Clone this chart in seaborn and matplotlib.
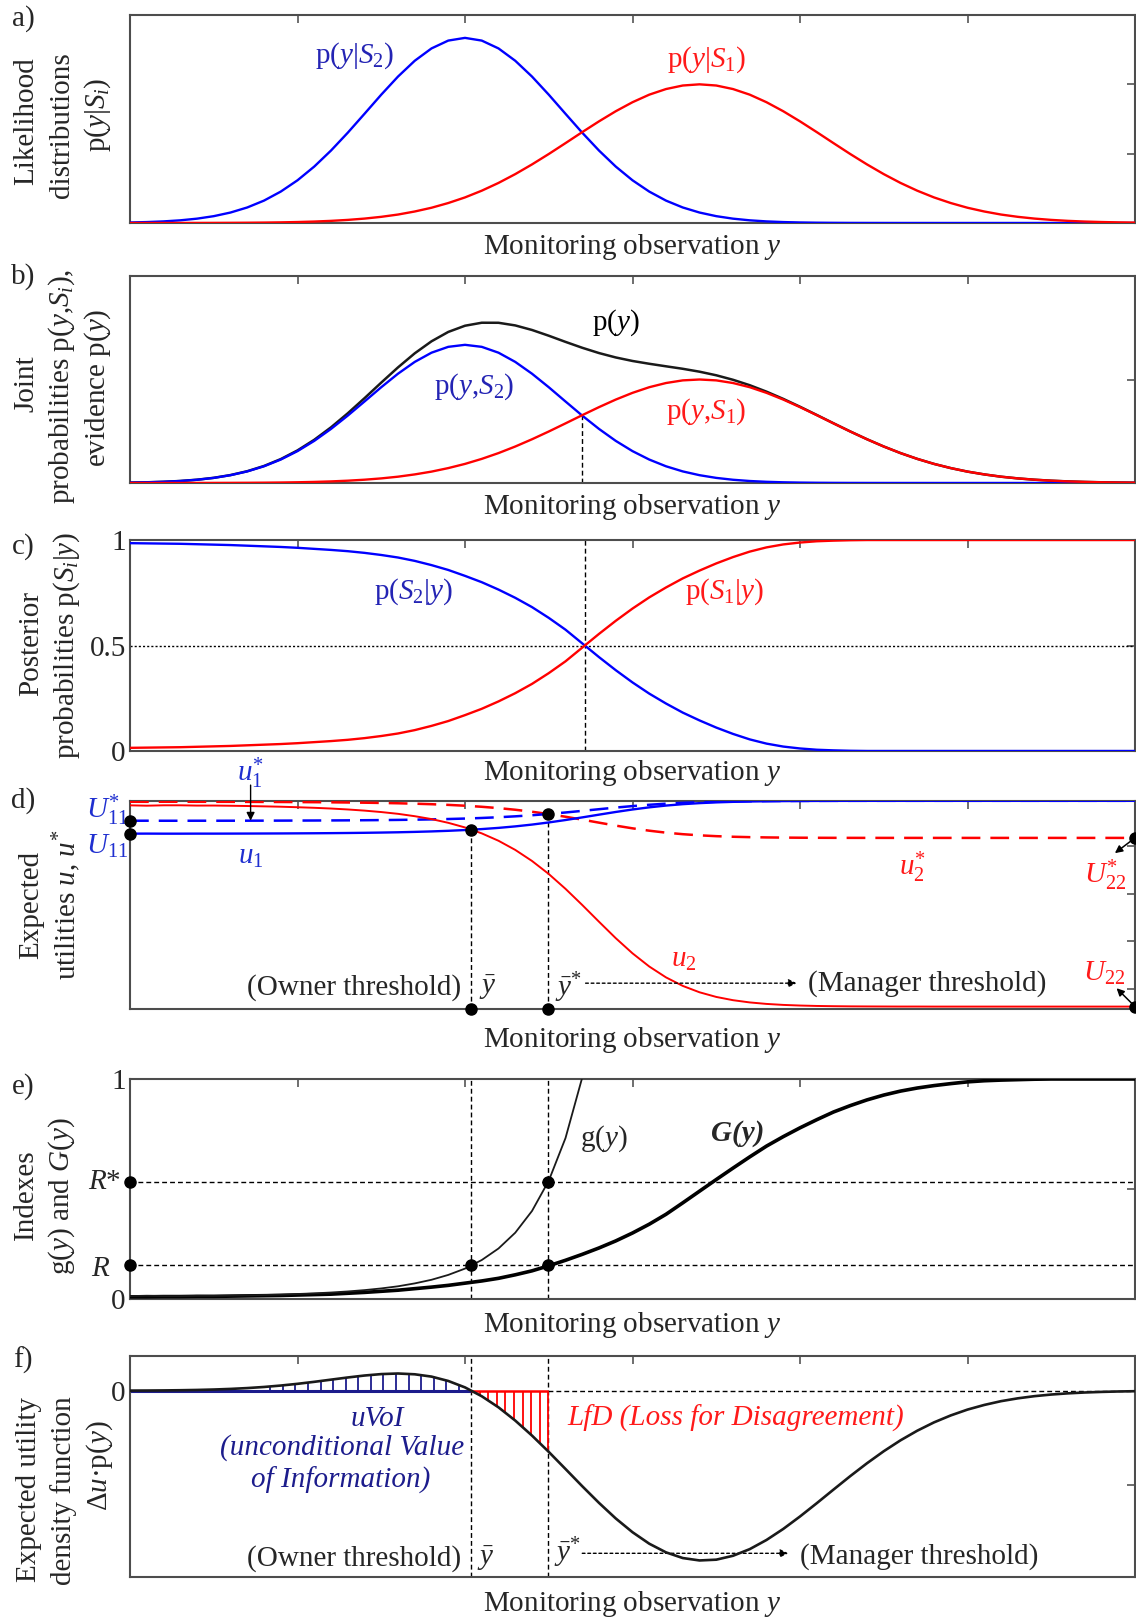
import numpy as np
import pandas as pd
import matplotlib
matplotlib.use("Agg")
import matplotlib.pyplot as plt
import seaborn as sns

# ---------------- data ----------------
y_obs = np.round(np.linspace(0.0, 6.0, 61), 1)   # monitoring observation grid

# likelihood p(y|S1) (red) and p(y|S2) (blue), panel a
lik_S1 = [0.0001, 0.0002, 0.0003, 0.0005, 0.0009, 0.0014, 0.0023, 0.0037, 0.0059, 0.0091,
          0.0140, 0.0209, 0.0308, 0.0447, 0.0636, 0.0890, 0.122, 0.166, 0.220, 0.288,
          0.369, 0.466, 0.578, 0.705, 0.845, 0.995, 1.152, 1.311, 1.466, 1.612,
          1.742, 1.851, 1.932, 1.983, 2.000, 1.983, 1.932, 1.851, 1.742, 1.612,
          1.466, 1.311, 1.152, 0.995, 0.845, 0.705, 0.578, 0.466, 0.369, 0.288,
          0.220, 0.166, 0.122, 0.0890, 0.0636, 0.0447, 0.0308, 0.0209, 0.0140, 0.0091,
          0.0059]
lik_S2 = [0.0076, 0.0134, 0.0231, 0.0386, 0.0626, 0.0986, 0.151, 0.224, 0.323, 0.453,
          0.616, 0.814, 1.045, 1.302, 1.575, 1.851, 2.112, 2.340, 2.518, 2.631,
          2.670, 2.631, 2.518, 2.340, 2.112, 1.851, 1.575, 1.302, 1.045, 0.814,
          0.616, 0.453, 0.323, 0.224, 0.151, 0.0986, 0.0626, 0.0386, 0.0231, 0.0134,
          0.0076, 0.0041, 0.0022, 0.0011, 0.0006, 0.0003, 0.0001, 0.0001, 0.0, 0.0,
          0.0, 0.0, 0.0, 0.0, 0.0, 0.0, 0.0, 0.0, 0.0, 0.0,
          0.0]
prior_S1 = 0.5
prior_S2 = 0.5

# posterior p(S1|y) as drawn in panel c
post_S1_c = [0.015, 0.016, 0.017, 0.018, 0.020, 0.022, 0.024, 0.027, 0.030, 0.033,
             0.037, 0.042, 0.047, 0.053, 0.061, 0.071, 0.083, 0.099, 0.119, 0.142,
             0.170, 0.200, 0.235, 0.274, 0.318, 0.369, 0.425, 0.490, 0.555, 0.617,
             0.675, 0.728, 0.775, 0.818, 0.855, 0.889, 0.919, 0.945, 0.965, 0.979,
             0.988, 0.994, 0.997, 0.999, 1.000, 1.000, 1.000, 1.000, 1.000, 1.000,
             1.000, 1.000, 1.000, 1.000, 1.000, 1.000, 1.000, 1.000, 1.000, 1.000,
             1.000]

# expected utilities: value when S2 is certain (left) and when S1 is certain (right)
u1_ends = [3.25, 3.95]     # U11 -> top
u1s_ends = [3.525, 3.95]   # U*11 -> top
u2_ends = [3.91, -0.376]   # -> U22
u2s_ends = [3.94, 3.17]    # -> U*22

# index G(y), panel e
G_vals = [0.010, 0.010, 0.011, 0.011, 0.012, 0.012, 0.013, 0.014, 0.015, 0.016,
          0.018, 0.020, 0.022, 0.026, 0.030, 0.035, 0.040, 0.047, 0.054, 0.062,
          0.072, 0.082, 0.094, 0.110, 0.128, 0.151, 0.176, 0.203, 0.232, 0.264,
          0.300, 0.340, 0.385, 0.437, 0.490, 0.543, 0.595, 0.646, 0.695, 0.738,
          0.778, 0.815, 0.850, 0.879, 0.905, 0.927, 0.945, 0.959, 0.970, 0.979,
          0.987, 0.992, 0.995, 0.997, 0.999, 1.000, 1.000, 1.000, 1.000, 1.000,
          1.000]

x_ticks = [1, 2, 3, 4, 5]

# ---------------- derived quantities ----------------
lik1 = np.array(lik_S1)
lik2 = np.array(lik_S2)
joint1 = prior_S1 * lik1
joint2 = prior_S2 * lik2
evidence = joint1 + joint2
post1 = joint1 / evidence
u1 = u1_ends[0] + (u1_ends[1] - u1_ends[0]) * post1
u1s = u1s_ends[0] + (u1s_ends[1] - u1s_ends[0]) * post1
u2 = u2_ends[0] + (u2_ends[1] - u2_ends[0]) * post1
u2s = u2s_ends[0] + (u2s_ends[1] - u2s_ends[0]) * post1
du_p = (u2 - u1) * evidence
pc1 = np.array(post_S1_c)
pc2 = 1.0 - pc1


def crossing(x, a, b):
    d = np.asarray(a) - np.asarray(b)
    i = np.where(np.sign(d[:-1]) != np.sign(d[1:]))[0][0]
    return x[i] - d[i] * (x[i + 1] - x[i]) / (d[i + 1] - d[i])


y_eq = crossing(y_obs, joint1, joint2)
y_eq_c = crossing(y_obs, pc1, pc2)
ybar = crossing(y_obs, u1, u2)
ybar_s = crossing(y_obs, u1s, u2s)
k_end = np.where(joint1 > 1.15 * joint2)[0][0]
g_x = y_obs[:k_end + 1]
g_vals = joint1[:k_end + 1] / joint2[:k_end + 1]
R = np.interp(ybar, g_x, g_vals)
R_s = np.interp(ybar_s, g_x, g_vals)

# ---------------- styling ----------------
sns.set_theme(style="white")
plt.rcParams["font.family"] = ["Liberation Serif", "DejaVu Serif"]
plt.rcParams["mathtext.fontset"] = "custom"
plt.rcParams["mathtext.rm"] = "Liberation Serif"
plt.rcParams["mathtext.it"] = "Liberation Serif:italic"
plt.rcParams["mathtext.bf"] = "Liberation Serif:bold"
plt.rcParams["mathtext.fallback"] = "stix"

FS = 21
BLUE = "#0000ff"
RED = "#ff0000"
TBLUE = "#2424b4"
TBLUE_D = "#1f2fd0"
NAVY = "#1c1c8c"
TRED = "#ff1a1a"

W, H = 1136, 1618
fig = plt.figure(figsize=(W / 100, H / 100), dpi=100)
AX_L, AX_R = 130, 1135
px = {"a": (15, 223), "b": (276, 483), "c": (540, 751),
      "d": (800.7, 1009.3), "e": (1079, 1299), "f": (1356, 1577)}
xlab_c = {"a": 246.5, "b": 506.5, "c": 773.5, "d": 1040, "e": 1325.5, "f": 1604}
plab_y = {"a": 19, "b": 277, "c": 547, "d": 801, "e": 1087, "f": 1360}

# y-axis titles: one entry per text line -> (text, x centre px, y centre px)
ytitles = {
    "a": [("Likelihood", 26, 121), ("distributions", 62, 125), (r"p($y$|$S_i$)", 98, 115)],
    "b": [("Joint", 26, 384), (r"probabilities p($y$,$S_i$),", 62, 386),
          (r"evidence p($y$)", 98, 388)],
    "c": [("Posterior", 31, 644), (r"probabilities p($S_i$|$y$)", 67, 645)],
    "d": [("Expected", 31, 905), (r"utilities $u$, $u^{*}$", 67, 905)],
    "e": [("Indexes", 26, 1195), (r"g($y$) and $G$($y$)", 62, 1196)],
    "f": [("Expected utility", 29, 1489), ("density function", 64, 1491),
          (r"$\Delta u$·p($y$)", 100, 1466)],
}

axes = {}
for k, (t, b) in px.items():
    ax = fig.add_axes([AX_L / W, 1 - b / H, (AX_R - AX_L) / W, (b - t) / H])
    axes[k] = ax
    ax.set_facecolor("white")
    ax.set_xlim(0, 6)
    ax.set_xticks(x_ticks)
    ax.set_xticklabels([])
    ax.tick_params(direction="in", length=6, width=1.2, top=True, right=True,
                   color="#555555", labelsize=FS, pad=3)
    for s in ax.spines.values():
        s.set_color("#4d4d4d")
        s.set_linewidth(1.5)
    ax.set_xlabel(r"Monitoring observation $y$", fontsize=FS, va="center")
    ax.xaxis.set_label_coords(0.5, (b - xlab_c[k]) / (b - t))
    fig.text(23 / W, 1 - plab_y[k] / H, k + ")", fontsize=FS, ha="center", va="center")
    for txt, xc, yc in ytitles[k]:
        fig.text(xc / W, 1 - yc / H, txt, fontsize=FS, rotation=90, rotation_mode="anchor",
                 ha="center", va="center")


def line(ax, x, y, color, lw=1.7, ls="-", z=3):
    sns.lineplot(x=x, y=y, ax=ax, color=color, linewidth=lw, linestyle=ls,
                 estimator=None, sort=False, legend=False, zorder=z)


DOT = dict(marker="o", color="black", ms=8, linestyle="none", clip_on=False, zorder=10)
DASH = (0, (3.5, 2.2))
DOTL = (0, (1.5, 1.5))
LDASH = (0, (7.5, 4))

# ---------------- a) likelihoods ----------------
ax = axes["a"]
line(ax, y_obs, lik2, BLUE)
line(ax, y_obs, lik1, RED)
ax.set_ylim(0, 3)
ax.set_yticks([1, 2]); ax.set_yticklabels([])
ax.text(1.343, 2.42, r"p($y$|$S_2$)", color=TBLUE, fontsize=FS, ha="center", va="center")
ax.text(3.442, 2.35, r"p($y$|$S_1$)", color=TRED, fontsize=FS, ha="center", va="center")

# ---------------- b) joint & evidence ----------------
ax = axes["b"]
line(ax, y_obs, evidence, "#1a1a1a", lw=1.8)
line(ax, y_obs, joint2, BLUE)
line(ax, y_obs, joint1, RED)
ax.set_ylim(0, 2)
ax.set_yticks([1]); ax.set_yticklabels([])
ax.vlines(y_eq, 0, np.interp(y_eq, y_obs, joint1), color="black", lw=1.0, linestyle=DASH)
ax.text(2.90, 1.546, r"p($y$)", color="black", fontsize=FS, ha="center", va="center")
ax.text(2.057, 0.93, r"p($y$,$S_2$)", color=TBLUE, fontsize=FS, ha="center", va="center")
ax.text(3.442, 0.689, r"p($y$,$S_1$)", color=TRED, fontsize=FS, ha="center", va="center")

# ---------------- c) posteriors ----------------
ax = axes["c"]
line(ax, y_obs, pc2, BLUE)
line(ax, y_obs, pc1, RED)
ax.set_ylim(0, 1)
ax.set_yticks([0, 0.5, 1]); ax.set_yticklabels(["0", "0.5", "1"])
ax.axhline(0.5, color="black", lw=1.0, linestyle=DOTL, zorder=1)
ax.axvline(y_eq_c, color="black", lw=1.0, linestyle=DASH, zorder=1)
ax.text(1.69, 0.755, r"p($S_2$|$y$)", color=TBLUE, fontsize=FS, ha="center", va="center")
ax.text(3.55, 0.755, r"p($S_1$|$y$)", color=TRED, fontsize=FS, ha="center", va="center")

# ---------------- d) expected utilities ----------------
ax = axes["d"]
ax.set_ylim(-0.433, 3.952)
ax.set_yticks([0, 1, 2, 3]); ax.set_yticklabels([])
line(ax, y_obs, u2s, RED, lw=1.8, ls=LDASH)
line(ax, y_obs, u1s, BLUE, lw=1.8, ls=LDASH)
line(ax, y_obs, u1, BLUE, lw=1.7)
line(ax, y_obs, u2, RED, lw=1.4)
yb_u = np.interp(ybar, y_obs, u1)
ys_u = np.interp(ybar_s, y_obs, u1s)
bot = -0.433
ax.vlines([ybar, ybar_s], bot, [yb_u, ys_u], color="black", lw=1.0, linestyle=DASH)
ax.plot([ybar, ybar_s, ybar, ybar_s], [yb_u, ys_u, bot, bot], **DOT)
ax.plot([0, 0, 6, 6], [u1[0], u1s[0], u2s[-1], u2[-1]], **DOT)
ax.text(-0.137, 3.756, r"$U_{11}^{*}$", color=TBLUE_D, fontsize=FS, ha="center", va="center")
ax.text(-0.137, 2.985, r"$U_{11}$", color=TBLUE_D, fontsize=FS, ha="center", va="center")
ax.text(0.72, 2.775, r"$u_1$", color=TBLUE_D, fontsize=FS, ha="center", va="center")
ax.text(0.72, 4.53, r"$u_1^{*}$", color=TBLUE_D, fontsize=FS, ha="center", va="center", clip_on=False)
ax.annotate("", xy=(0.72, np.interp(0.72, y_obs, u1s)), xytext=(0.72, 4.28),
            arrowprops=dict(arrowstyle="-|>", color="black", lw=1.0, mutation_scale=12,
                            shrinkA=0, shrinkB=0), annotation_clip=False)
ax.text(4.673, 2.565, r"$u_2^{*}$", color=TRED, fontsize=FS, ha="center", va="center")
ax.text(3.306, 0.605, r"$u_2$", color=TRED, fontsize=FS, ha="center", va="center")
ax.text(5.82, 2.39, r"$U_{22}^{*}$", color=TRED, fontsize=FS, ha="center", va="center")
ax.text(5.815, 0.326, r"$U_{22}$", color=TRED, fontsize=FS, ha="center", va="center")
ax.annotate("", xy=(5.88, 2.85), xytext=(6.0, u2s[-1]),
            arrowprops=dict(arrowstyle="-|>", color="black", lw=1.1, mutation_scale=11,
                            shrinkA=0, shrinkB=0), annotation_clip=False)
ax.annotate("", xy=(5.89, 0.01), xytext=(6.0, u2[-1]),
            arrowprops=dict(arrowstyle="-|>", color="black", lw=1.1, mutation_scale=11,
                            shrinkA=0, shrinkB=0), annotation_clip=False)
ax.text(1.976, 0.023, "(Owner threshold)", fontsize=FS, ha="right", va="center")
ax.text(2.137, 0.023, r"$\bar{y}$", fontsize=FS, ha="center", va="center")
ax.text(2.615, 0.02, r"$\bar{y}^{*}$", fontsize=FS, ha="center", va="center")
ax.annotate("", xy=(3.98, 0.116), xytext=(2.72, 0.116),
            arrowprops=dict(arrowstyle="-|>", color="black", lw=1.0, linestyle=(0, (2, 2)),
                            mutation_scale=12, shrinkA=0, shrinkB=0))
ax.text(4.05, 0.116, "(Manager threshold)", fontsize=FS, ha="left", va="center")

# ---------------- e) indexes ----------------
ax = axes["e"]
ax.set_ylim(0, 1)
ax.set_yticks([0, 0.5, 1]); ax.set_yticklabels(["0", "", "1"])
line(ax, y_obs, G_vals, "black", lw=2.6)
line(ax, g_x, g_vals, "#1a1a1a", lw=1.3)
ax.axhline(R, color="black", lw=1.0, linestyle=DASH, zorder=1)
ax.axhline(R_s, color="black", lw=1.0, linestyle=DASH, zorder=1)
ax.axvline(ybar, color="black", lw=1.0, linestyle=DASH, zorder=1)
ax.axvline(ybar_s, color="black", lw=1.0, linestyle=DASH, zorder=1)
ax.plot([0, 0, ybar, ybar_s, ybar_s], [R, R_s, R, R_s, R], **DOT)
ax.text(-0.149, R_s, r"$R$*", fontsize=FS, ha="center", va="center", clip_on=False)
ax.text(-0.173, R - 0.015, r"$R$", fontsize=FS, ha="center", va="center", clip_on=False)
ax.text(2.826, 0.73, r"g($y$)", fontsize=FS, ha="center", va="center")
ax.text(3.626, 0.753, "G(y)", fontsize=FS, ha="center", va="center",
        fontstyle="italic", fontweight="bold")

# ---------------- f) expected utility density ----------------
ax = axes["f"]
ax.set_ylim(-4.693, 0.874)
ax.set_yticks([0, -2.375]); ax.set_yticklabels(["0", ""])
xb = np.arange(ybar - 0.075, 0.78, -0.075)
ax.vlines(xb, 0, np.interp(xb, y_obs, du_p), color=NAVY, lw=1.3, zorder=2)
xr = np.linspace(ybar, ybar_s, 10)[1:]
ax.vlines(xr, 0, np.interp(xr, y_obs, du_p), color=RED, lw=1.3, zorder=2)
ax.hlines(0, 0, ybar, color=NAVY, lw=2.2, zorder=2)
ax.hlines(0, ybar, ybar_s, color=RED, lw=1.8, zorder=2)
ax.hlines(0, ybar_s, 6, color="black", lw=1.0, linestyle=DASH, zorder=1)
ax.axvline(ybar, color="black", lw=1.0, linestyle=DASH, zorder=1)
ax.axvline(ybar_s, color="black", lw=1.0, linestyle=DASH, zorder=1)
line(ax, y_obs, du_p, "#1a1a1a", lw=1.9, z=4)
ax.text(1.475, -0.705, "uVoI", color=NAVY, fontsize=FS, ha="center", va="center", fontstyle="italic")
ax.text(1.266, -1.433, "(unconditional Value", color=NAVY, fontsize=FS, ha="center", va="center",
        fontstyle="italic")
ax.text(1.257, -2.25, "of Information)", color=NAVY, fontsize=FS, ha="center", va="center",
        fontstyle="italic")
ax.text(3.614, -0.695, "LfD (Loss for Disagreement)", color=TRED, fontsize=FS, ha="center",
        va="center", fontstyle="italic")
ax.text(1.976, -4.22, "(Owner threshold)", fontsize=FS, ha="right", va="center")
ax.text(2.121, -4.22, r"$\bar{y}$", fontsize=FS, ha="center", va="center")
ax.text(2.609, -4.09, r"$\bar{y}^{*}$", fontsize=FS, ha="center", va="center")
ax.annotate("", xy=(3.93, -4.096), xytext=(2.70, -4.096),
            arrowprops=dict(arrowstyle="-|>", color="black", lw=1.0, linestyle=(0, (2, 2)),
                            mutation_scale=12, shrinkA=0, shrinkB=0))
ax.text(4.0, -4.18, "(Manager threshold)", fontsize=FS, ha="left", va="center")

fig.savefig("out.png", dpi=100)
